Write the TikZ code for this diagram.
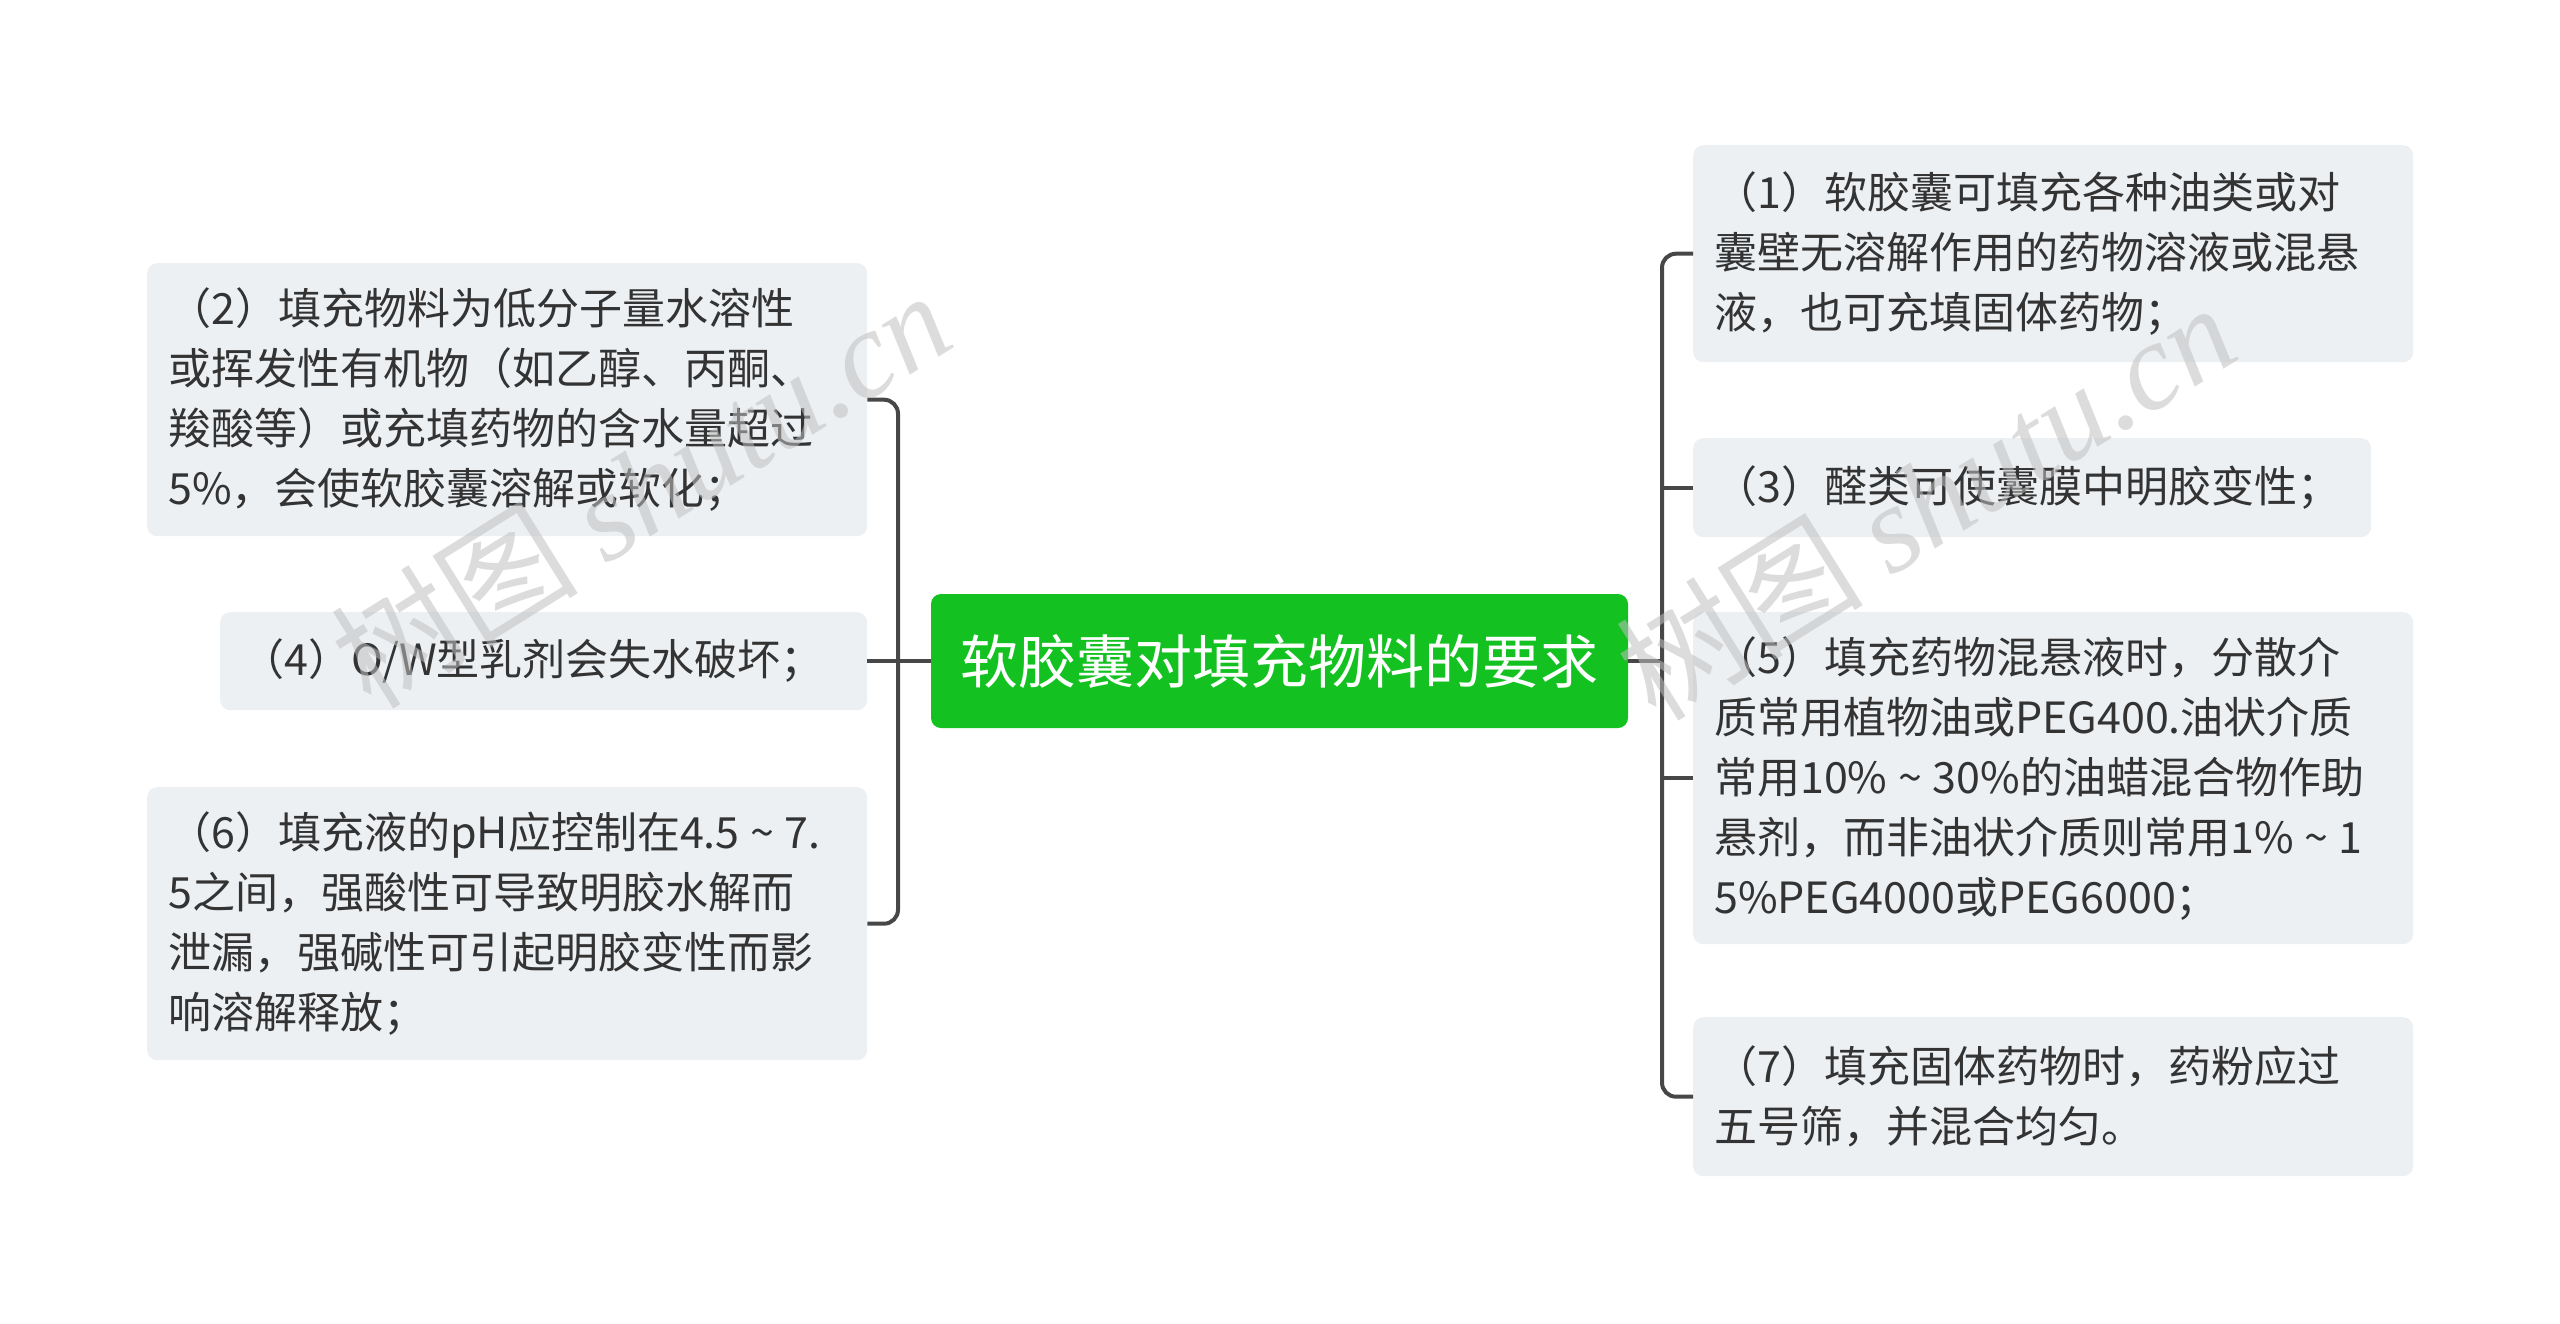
\documentclass[tikz,border=0pt]{standalone}
\usepackage{fontspec}
\setmainfont{Noto Sans CJK SC}
\newfontfamily\wmserif{Liberation Serif}
\newcommand{\wavesep}{\hbox to 1.05em{\hss\textasciitilde\hss}}
\definecolor{boxfill}{HTML}{EDF0F3}
\definecolor{txt}{HTML}{333333}
\definecolor{rootgreen}{HTML}{13C220}
\definecolor{conn}{HTML}{474747}
\begin{document}
\begin{tikzpicture}[x=1pt,y=-1pt,
  leaf/.style={fill=boxfill, rounded corners=10pt, inner xsep=21pt, inner ysep=0pt,
    anchor=north west, align=left, text=txt, font=\fontsize{43}{60}\selectfont},
  rootbox/.style={fill=rootgreen, rounded corners=10pt, inner sep=0pt, text=white,
    minimum width=697pt, minimum height=134pt, font=\fontsize{58}{66}\selectfont},
  link/.style={draw=conn, line width=4pt, rounded corners=14pt},
  wmark/.style={text=gray!50, opacity=0.55, rotate=32, font=\fontsize{124}{130}\selectfont}]
\useasboundingbox (0,0) rectangle (2560,1323);

\node[rootbox] (root) at (1279.5,661) {软胶囊对填充物料的要求};

\node[leaf, text width=678pt, minimum height=273pt] (b2) at (147,263)
  {（2）填充物料为低分子量水溶性\\或挥发性有机物（如乙醇、丙酮、\\羧酸等）或充填药物的含水量超过\\5\%，会使软胶囊溶解或软化；};
\node[leaf, text width=605pt, minimum height=98pt] (b4) at (220,612)
  {（4）O/W型乳剂会失水破坏；};
\node[leaf, text width=678pt, minimum height=273pt] (b6) at (147,787)
  {（6）填充液的pH应控制在4.5\wavesep 7.\\5之间，强酸性可导致明胶水解而\\泄漏，强碱性可引起明胶变性而影\\响溶解释放；};

\node[leaf, text width=678pt, minimum height=217pt] (b1) at (1693,145)
  {（1）软胶囊可填充各种油类或对\\囊壁无溶解作用的药物溶液或混悬\\液，也可充填固体药物；};
\node[leaf, text width=636pt, minimum height=99pt] (b3) at (1693,438)
  {（3）醛类可使囊膜中明胶变性；};
\node[leaf, text width=678pt, minimum height=332pt] (b5) at (1693,612)
  {（5）填充药物混悬液时，分散介\\质常用植物油或PEG400.油状介质\\常用10\%\wavesep 30\%的油蜡混合物作助\\悬剂，而非油状介质则常用1\%\wavesep 1\\5\%PEG4000或PEG6000；};
\node[leaf, text width=678pt, minimum height=159pt] (b7) at (1693,1017)
  {（7）填充固体药物时，药粉应过\\五号筛，并混合均匀。};

\coordinate (jl) at (898,661);
\coordinate (jr) at (1662,661);

\draw[link] (root.west) -- (jl);
\draw[link] (b2.east) -- (b2.east -| jl) -- (b6.east -| jl) -- (b6.east);
\draw[link] (b4.east) -- (b4.east -| jl);

\draw[link] (root.east) -- (jr);
\draw[link] (b1.west) -- (b1.west -| jr) -- (b7.west -| jr) -- (b7.west);
\draw[link] (b3.west) -- (b3.west -| jr);
\draw[link] (b5.west) -- (b5.west -| jr);

\node[wmark] (wm1) at (640,488) {树图 {\wmserif\itshape shutu.cn}};
\node[wmark] (wm2) at (1925,500) {树图 {\wmserif\itshape shutu.cn}};
\end{tikzpicture}
\end{document}
